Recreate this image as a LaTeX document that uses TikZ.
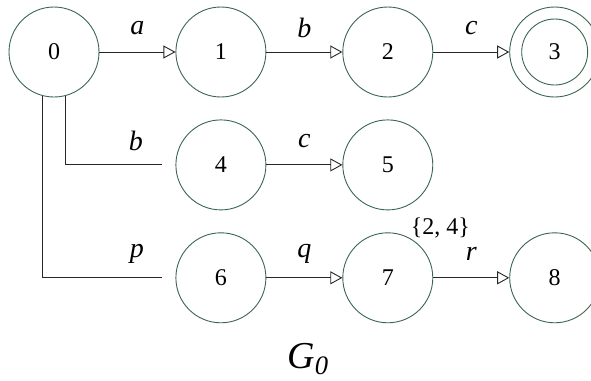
\documentclass[tikz,border=0pt]{standalone}
\usepackage{fontspec}
\setmainfont{Liberation Serif}
\usetikzlibrary{positioning,arrows.meta,calc}
\definecolor{stategreen}{HTML}{3A6650}

\begin{document}
\begin{tikzpicture}[
  stnode/.style={circle, draw=stategreen, line width=0.45pt, minimum size=45pt,
                 inner sep=0pt, font=\fontsize{12}{14}\selectfont},
  final/.style={stnode, path picture={\draw[stategreen, line width=0.45pt]
                 (path picture bounding box.center) circle (16.5pt);}},
  trans/.style={-{Triangle[open, length=6pt, width=6.5pt]}, line width=0.45pt, draw=black!85},
  branch/.style={line width=0.45pt, draw=black!85, shorten >=6.5pt},
  lbl/.style={font=\fontsize{14}{16}\selectfont\itshape, anchor=center, yshift=12pt, inner sep=0pt},
  setlbl/.style={font=\fontsize{12}{14}\selectfont, inner sep=0pt, anchor=south west},
  title/.style={font=\fontsize{19}{22}\selectfont\itshape, inner sep=0pt},
  node distance=11pt and 38pt,
]
\useasboundingbox (0,0) rectangle (295.5pt,-190.5pt);
% top row
\node[stnode] (n0) at (27pt,-26pt) {0};
\node[stnode, right=of n0] (n1) {1};
\node[stnode, right=of n1] (n2) {2};
\node[final,  right=of n2] (n3) {3};
% middle and bottom rows
\node[stnode, below=of n1] (n4) {4};
\node[stnode, right=of n4] (n5) {5};
\node[stnode, below=of n4] (n6) {6};
\node[stnode, right=of n6] (n7) {7};
\node[stnode, right=of n7] (n8) {8};
\node[setlbl] (s7) at (n7.60) {\{2, 4\}};
\node[title] (g0) at ($(n6)!.5!(n7)+(2pt,-40.5pt)$) {G\textsubscript{0}};

% transitions
\draw[trans] (n0) -- node[lbl]{a} (n1);
\draw[trans] (n1) -- node[lbl]{b} (n2);
\draw[trans] (n2) -- node[lbl]{c} (n3);
\draw[trans] (n4) -- node[lbl]{c} (n5);
\draw[trans] (n6) -- node[lbl]{q} (n7);
\draw[trans] (n7) -- node[lbl]{r} (n8);
\draw[branch] (n0.285) |- node[lbl, pos=.82]{b} (n4);
\draw[branch] (n0.255) |- node[lbl, pos=.855]{p} (n6);
\end{tikzpicture}
\end{document}
